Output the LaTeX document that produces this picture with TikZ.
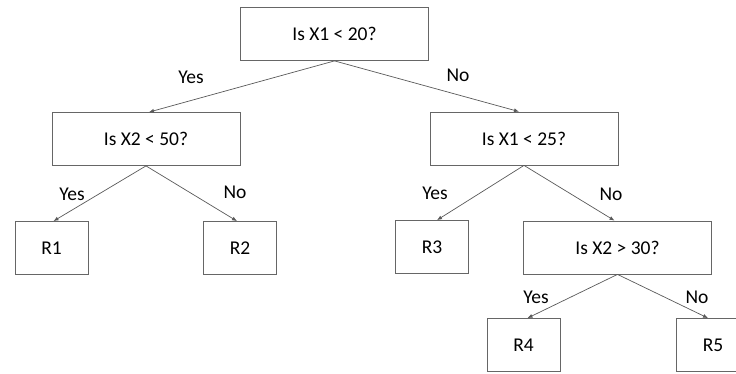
\documentclass[tikz,border=0pt]{standalone}
\usepackage{fontspec}
\setmainfont{Carlito}
\usetikzlibrary{arrows.meta}

\tikzset{
    qbox/.style={draw=black!60, line width=0.8pt, rectangle, inner sep=0pt, minimum width=188pt, minimum height=53pt},
    leafbox/.style={qbox, minimum width=73pt},
    branch/.style={draw=black!65, line width=0.7pt, -{Latex[length=5pt,width=4pt]}},
    ans/.style={inner sep=0pt}
}

\begin{document}
\begin{tikzpicture}[x=1pt, y=1pt, every node/.style={font=\fontsize{19.5}{23}\selectfont}]
                    \clip (0,0) rectangle (736,-374);    %frame of the picture
                    % questions
                    \node[qbox] (root) at (334.5,-34) {Is X1 < 20?};
                    \node[qbox] (qa) at (146,-139) {Is X2 < 50?};
                    \node[qbox] (qb) at (524,-138.5) {Is X1 < 25?};
                    \node[qbox] (qc) at (617.5,-247.5) {Is X2 > 30?};
                    % regions
                    \node[leafbox] (r1) at (51.5,-248) {R1};
                    \node[leafbox] (r2) at (240,-248) {R2};
                    \node[leafbox] (r3) at (432,-247) {R3};
                    \node[leafbox] (r4) at (523.5,-345) {R4};
                    \node[leafbox] (r5) at (713,-345) {R5};
                    % branches
                    \draw[branch] (root.south) -- ([xshift=3pt]qa.north);
                    \draw[branch] (root.south) -- ([xshift=-5pt]qb.north);
                    \draw[branch] (qa.south) -- ([xshift=2pt]r1.north);
                    \draw[branch] (qa.south) -- ([xshift=-3pt]r2.north);
                    \draw[branch] (qb.south) -- ([xshift=5pt]r3.north);
                    \draw[branch] (qb.south) -- ([xshift=-3pt]qc.north);
                    \draw[branch] (qc.south) -- ([xshift=4pt]r4.north);
                    \draw[branch] (qc.south) -- ([xshift=-5pt]r5.north);
                    % answers
                    \node[ans] (y1) at (191,-77) {Yes};
                    \node[ans] (n1) at (458,-75) {No};
                    \node[ans] (y2) at (72,-194) {Yes};
                    \node[ans] (n2) at (235,-192) {No};
                    \node[ans] (y3) at (435,-193) {Yes};
                    \node[ans] (n3) at (611,-194) {No};
                    \node[ans] (y4) at (536,-297) {Yes};
                    \node[ans] (n4) at (697,-297) {No};
                \end{tikzpicture}
\end{document}
